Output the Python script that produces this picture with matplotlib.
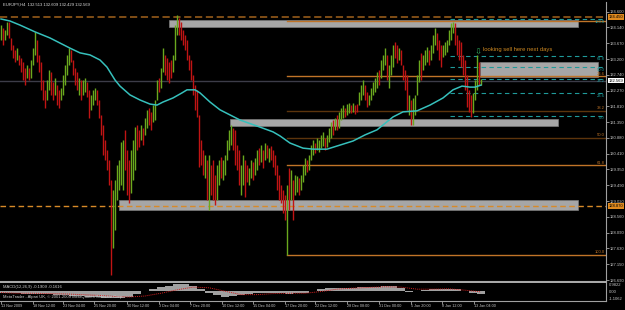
import matplotlib
matplotlib.use("Agg")
import matplotlib.pyplot as plt
from matplotlib.patches import Rectangle
import matplotlib.transforms as mtransforms

# ---------------- data ----------------
title_text = "EURJPY,H4  132.513 132.609 132.429 132.569"

highs = [
    134.21, 134.12, 134.07, 134.30, 134.30, 133.83, 133.62, 133.48, 133.53, 133.33,
    133.24, 133.12, 132.94, 133.03, 132.94, 133.18, 133.53, 134.01, 133.77, 133.33,
    133.12, 132.59, 132.30, 132.59, 132.89, 132.83, 132.53, 132.65, 132.44, 132.30,
    132.35, 132.74, 133.03, 133.33, 133.53, 133.48, 133.18, 132.94, 132.83, 132.65,
    132.59, 132.59, 132.65, 132.53, 132.30, 132.15, 132.30, 132.35, 132.30, 132.00,
    131.56, 131.26, 130.82, 130.53, 130.23, 129.64, 129.35, 129.64, 130.08, 130.23,
    130.76, 130.82, 131.12, 130.53, 130.23, 130.53, 130.82, 131.20, 131.26, 131.12,
    131.26, 131.17, 131.47, 131.71, 131.76, 131.65, 131.85, 132.00, 132.59, 132.65,
    132.94, 133.53, 133.33, 133.24, 133.12, 133.18, 133.33, 134.21, 134.51, 134.42,
    134.30, 134.07, 133.92, 133.77, 133.33, 133.18, 132.74, 132.44, 132.30, 131.56,
    130.82, 130.53, 130.38, 130.23, 130.38, 130.08, 130.23, 129.79, 130.08, 130.23,
    130.32, 130.23, 130.38, 130.82, 131.12, 131.26, 131.17, 131.12, 130.67, 130.53,
    130.08, 130.38, 130.23, 130.08, 129.99, 130.23, 130.17, 130.29, 130.53, 130.58,
    130.67, 130.53, 130.73, 130.67, 130.58, 130.64, 130.53, 130.38, 130.08, 129.79,
    129.49, 129.35, 129.20, 129.49, 129.99, 129.94, 129.64, 129.79, 129.76, 129.70,
    129.79, 130.08, 130.29, 130.23, 130.38, 130.67, 130.82, 130.73, 130.88, 130.82,
    130.97, 131.06, 130.88, 130.97, 131.17, 131.35, 131.41, 131.47, 131.56, 131.65,
    131.76, 131.85, 131.76, 131.88, 131.91, 131.85, 131.91, 131.85, 131.88, 132.24,
    132.44, 132.59, 132.44, 132.24, 132.15, 132.35, 132.53, 132.65, 132.83, 132.89,
    133.18, 133.33, 133.53, 133.33, 133.03, 133.33, 133.62, 133.71, 133.62, 133.53,
    133.48, 133.03, 132.89, 132.74, 132.15, 132.00, 132.06, 132.15, 132.74, 133.18,
    133.39, 133.33, 133.48, 133.56, 133.48, 133.62, 133.92, 134.12, 133.98, 133.77,
    133.62, 133.62, 133.71, 133.77, 134.07, 134.27, 134.30, 134.27, 133.92, 133.77,
    133.71, 133.33, 133.18, 132.74, 132.30, 132.15, 132.21, 132.59, 133.33, 133.12,
    132.609]

lows = [
    133.77, 133.62, 133.77, 133.92, 133.83, 133.48, 133.24, 133.12, 133.18, 133.03,
    132.83, 132.59, 132.44, 132.65, 132.59, 132.65, 133.03, 133.33, 133.12, 132.83,
    132.30, 132.00, 131.76, 132.00, 132.30, 132.15, 132.00, 132.15, 131.85, 131.76,
    132.00, 132.15, 132.44, 132.74, 133.03, 133.12, 132.74, 132.44, 132.30, 132.15,
    132.00, 132.15, 132.24, 132.09, 131.47, 131.71, 131.85, 132.00, 131.85, 131.47,
    130.97, 130.38, 130.23, 129.94, 129.49, 126.84, 127.63, 128.17, 129.05, 129.35,
    129.49, 129.35, 129.94, 129.20, 128.96, 129.26, 129.64, 129.94, 130.53, 130.61,
    130.82, 130.67, 130.97, 131.17, 131.26, 131.12, 131.35, 131.41, 132.00, 132.24,
    132.35, 132.83, 132.74, 132.59, 132.50, 132.65, 132.83, 133.18, 133.92, 133.92,
    133.77, 133.62, 133.48, 133.18, 132.89, 132.59, 132.15, 131.71, 131.50, 130.02,
    130.08, 129.79, 129.70, 129.05, 128.76, 129.20, 129.05, 128.90, 129.05, 129.49,
    129.70, 129.64, 129.79, 130.23, 130.53, 130.67, 130.53, 130.08, 129.94, 129.49,
    129.20, 129.49, 129.14, 129.58, 129.49, 129.70, 129.64, 129.79, 129.94, 130.08,
    130.17, 129.99, 130.23, 130.29, 130.17, 130.23, 130.02, 129.79, 129.35, 129.05,
    128.96, 128.67, 128.46, 127.43, 128.76, 129.05, 128.46, 129.20, 129.29, 129.20,
    129.35, 129.58, 129.79, 129.88, 129.94, 130.23, 130.38, 130.44, 130.53, 130.47,
    130.58, 130.64, 130.53, 130.61, 130.76, 130.88, 130.97, 131.12, 131.12, 131.17,
    131.41, 131.47, 131.50, 131.56, 131.62, 131.62, 131.65, 131.59, 131.65, 131.85,
    132.00, 132.15, 132.00, 131.79, 131.85, 132.00, 132.15, 132.24, 132.35, 132.44,
    132.65, 132.89, 133.03, 132.59, 132.35, 132.74, 132.97, 133.24, 133.09, 133.18,
    133.03, 132.59, 132.30, 131.71, 131.56, 131.26, 131.26, 131.56, 132.15, 132.53,
    132.59, 132.89, 133.03, 133.12, 133.03, 133.18, 133.39, 133.62, 133.48, 133.18,
    132.97, 133.27, 133.33, 133.42, 133.62, 133.77, 133.98, 133.62, 133.33, 133.18,
    132.97, 132.74, 132.30, 131.79, 131.65, 131.50, 131.62, 132.00, 132.30, 132.44,
    132.429]

# U = bullish bar, D = bearish bar
direction = ("UDUUDDDDUD" "DDDUDUUUDD" "DDDUUDDUDD" "UUUUUDDDDU" "DUUDDUUUDD"
             "DDDDDDUUUU" "UUDDDUUUDD" "UDUUDDUUUD" "UUDDDDUUUD" "DDDDDDDDDD"
             "DDUDUDDDUU" "DUUUUUDDDD" "UUDDUUDUUD" "UDUDUDDDDD" "DDDUDUDUUD"
             "UUUDUUUDUU" "UUDUUUDUDU" "UUDUUDUDDU" "UUDDUUUUUD" "UUUDUUUDDU"
             "DDDDUDUUUU" "DUUUDUUUDD" "DUUUUUUDDD" "DDDDDDUUUD" "U")

ma_idx = [0, 4.5, 9.5, 17, 24.5, 29.5, 34.5, 39.5, 44.5, 49.5,
          53, 57, 59.5, 64.5, 69.5, 74.5, 78, 81, 86, 90.5,
          93, 97, 99.5, 104.5, 109.5, 114.5, 119.5, 129.5, 136, 139.5,
          144.5, 151, 156, 163, 169.5, 176, 182, 188, 196, 201,
          208, 214.5, 221, 226, 230.5, 234.5, 237, 240]
ma_val = [134.39, 134.33, 134.21, 134.01, 133.83, 133.68, 133.53, 133.39, 133.33, 133.18,
          132.97, 132.59, 132.41, 132.15, 132.00, 131.88, 131.85, 131.94, 132.06, 132.21,
          132.30, 132.30, 132.21, 131.94, 131.71, 131.56, 131.41, 131.20, 131.06, 130.94,
          130.73, 130.58, 130.55, 130.55, 130.67, 130.79, 130.97, 131.12, 131.50, 131.65,
          131.68, 131.85, 132.06, 132.30, 132.41, 132.38, 132.38, 132.44]

# supply / demand zones (bar index start, end, price low, price high)
zone_start = [84, 239.5, 114.5, 59]
zone_end = [288.5, 298.5, 278.5, 288.5]
zone_low = [134.15, 132.68, 131.23, 128.76]
zone_high = [134.36, 133.12, 131.44, 129.05]

resistance_level = 134.45
support_level = 128.87
last_price = 132.569

fib_orange_start = 143
fib_orange_levels = [134.33, 132.70, 131.69, 130.88, 130.07, 127.43]
fib_orange_names = ["", "23.6", "38.2", "50.0", "61.8", "100.0"]
fib_teal_start = 224.5
fib_teal_levels = [134.39, 133.30, 132.97, 132.63, 132.21, 131.54]
fib_teal_names = ["100.0", "61.8", "50.0", "38.2", "23.6", "0.0"]

note_text = "looking sell here next days"
note_idx, note_price = 241, 133.50
arrow_idx, arrow_price = 238.5, 133.40

price_ticks = [134.600, 134.140, 133.670, 133.200, 132.740, 132.270, 131.810,
               131.350, 130.880, 130.410, 129.950, 129.490, 129.020, 128.560,
               128.090, 127.630, 127.150, 126.690]

time_tick_pos = [0, 16, 31, 46.5, 63, 79, 94.5, 110.5, 126, 142, 157, 173,
                 189, 205, 220.5, 236.5]
time_tick_labels = ["13 Nov 2009", "18 Nov 12:00", "23 Nov 04:00", "25 Nov 20:00",
                    "30 Nov 12:00", "3 Dec 04:00", "7 Dec 20:00", "10 Dec 12:00",
                    "15 Dec 04:00", "17 Dec 20:00", "22 Dec 12:00", "28 Dec 08:00",
                    "31 Dec 00:00", "5 Jan 20:00", "8 Jan 12:00", "13 Jan 04:00"]

macd_hist = [-0.3, -0.3, -0.3, -0.35, -0.35, -0.4, -0.45, -0.5, -0.6, -0.7,
             -0.7, -0.8, -0.9, -1.0, -1.0, -1.0, -0.8, -0.4, 0.0, 0.3,
             0.6, 0.8, 1.0, 1.0, 0.7, 0.3, -0.2, -0.6, -0.8, -0.7,
             -0.5, -0.35, -0.3, -0.25, -0.3, -0.3, -0.35, -0.3, -0.2, 0.1,
             0.3, 0.45, 0.5, 0.5, 0.5, 0.55, 0.6, 0.65, 0.75, 0.75,
             0.5, -0.1, 0.1, 0.2, 0.3, 0.35, 0.35, 0.3, 0.0, -0.3, -0.35]
macd_signal = [-0.2, -0.3, -0.3, -0.35, -0.4, -0.5, -0.6, -0.75, -0.85, -0.7,
               -0.3, 0.2, 0.6, 0.5, 0.0, -0.5, -0.5, -0.35, -0.3, -0.3,
               -0.05, 0.3, 0.45, 0.55, 0.65, 0.6, 0.3, 0.3, 0.35, 0.15, -0.1]
macd_ticks = [0.9822, 0.0, -1.1062]
macd_tick_labels = ["0.9822", "0.00", "-1.1062"]
macd_text = "MACD(12,26,9) -0.1909 -0.1616"
copyright_text = "MetaTrader - Alpari UK, \u00a9 2001-2009 MetaQuotes Software Corp."

# ---------------- drawing ----------------
W, H = 625, 310
FONT = "Liberation Sans"
plt.rcParams["font.family"] = [FONT, "DejaVu Sans"]

fig = plt.figure(figsize=(W / 100, H / 100), dpi=100, facecolor="black")


def fr(x0, y0, x1, y1):
    return [x0 / W, 1 - y1 / H, (x1 - x0) / W, (y1 - y0) / H]


ax = fig.add_axes(fr(0, 2, 606, 282))
ax.set_facecolor("black")
ax.set_xlim(-0.5, 302.5)
ax.set_ylim(126.631, 134.891)

GREEN = "#6aa81e"
RED = "#c01414"

# zones
for x0, x1, lo, hi in zip(zone_start, zone_end, zone_low, zone_high):
    ax.add_patch(Rectangle((x0, lo), x1 - x0, hi - lo, facecolor="#a6a6a6",
                           edgecolor="#7a7a7a", lw=0.5, zorder=1))

# horizontal levels
ax.axhline(resistance_level, color="#8a5418", lw=1.3, dashes=(4, 2), zorder=2)
ax.axhline(support_level, color="#d88a28", lw=1.0, dashes=(4, 2.5), zorder=3)
ax.axhline(last_price, color="#3c3c48", lw=1.0, zorder=1.5)

# fibonacci (orange)
for lvl, name in zip(fib_orange_levels, fib_orange_names):
    col = "#5c340c" if name in ("38.2", "50.0") else "#c07428"
    ax.plot([fib_orange_start, 302.5], [lvl, lvl], color=col, lw=1.0, zorder=2)
    if name:
        ax.text(301.8, lvl + 0.02, name, color="#c07428", fontsize=3,
                ha="right", va="bottom", zorder=6)

# fibonacci (teal dashed) - labels below their lines
for lvl, name in zip(fib_teal_levels, fib_teal_names):
    ax.plot([fib_teal_start, 302.5], [lvl, lvl], color="#1f9a9a", lw=0.8,
            dashes=(4, 3), zorder=4)
    ax.text(301.8, lvl - 0.02, name, color="#1fa0a0", fontsize=3,
            ha="right", va="top", zorder=6)

# bars
idx = list(range(len(highs)))
cols = [GREEN if d == "U" else RED for d in direction]
ax.vlines(idx, lows, highs, colors=cols, lw=1.0, zorder=5)

# moving average
ax.plot(ma_idx, ma_val, color="#36c0bc", lw=1.1, zorder=6)

# annotation
ax.text(note_idx, note_price, note_text, color="#d08a22", fontsize=4.2,
        ha="left", va="center", zorder=7)
ax.text(arrow_idx, arrow_price, "\u21e9", color="#2fb060", fontsize=6,
        ha="center", va="center", family="DejaVu Sans", zorder=7)

# right price scale
ax.yaxis.tick_right()
ax.set_yticks(price_ticks)
ax.set_yticklabels([f"{p:.3f}" for p in price_ticks])
ax.tick_params(axis="y", colors="#c8c8c8", labelsize=3, length=2, width=0.5,
               pad=1)
ax.set_xticks([])
for s in ("left", "top"):
    ax.spines[s].set_visible(False)
ax.spines["right"].set_color("#a0a0a0")
ax.spines["right"].set_linewidth(0.8)
ax.spines["bottom"].set_color("#a8a8a8")
ax.spines["bottom"].set_linewidth(1.5)

trans = mtransforms.blended_transform_factory(ax.transAxes, ax.transData)
ax.text(1.004, last_price, f"{last_price:.3f}", transform=trans, fontsize=3,
        color="black", va="center", ha="left",
        bbox=dict(boxstyle="square,pad=0.15", fc="white", ec="none"), zorder=8)
ax.text(1.004, resistance_level, f"{resistance_level:.3f}", transform=trans,
        fontsize=3, color="black", va="center", ha="left",
        bbox=dict(boxstyle="square,pad=0.15", fc="#e08a1e", ec="none"), zorder=8)
ax.text(1.004, support_level, f"{support_level:.3f}", transform=trans,
        fontsize=3, color="black", va="center", ha="left",
        bbox=dict(boxstyle="square,pad=0.15", fc="#e08a1e", ec="none"), zorder=8)

fig.text(3 / W, 1 - 5 / H, title_text, color="#e0e0e0", fontsize=3,
         ha="left", va="center")

# MACD pane
mx = fig.add_axes(fr(0, 283, 606, 300.5))
mx.set_facecolor("black")
mx.set_xlim(-0.5, 302.5)
mx.set_ylim(-1.36, 1.2)
hist_idx = list(range(0, 4 * len(macd_hist), 4))
mx.bar(hist_idx, macd_hist, width=3.6, color="#a0a0a0", edgecolor="none",
       zorder=2)
sig_idx = list(range(0, 8 * len(macd_signal), 8))
mx.plot(sig_idx, macd_signal, color="#d02020", lw=0.7, ls=(0, (1, 1)), zorder=3)
mx.yaxis.tick_right()
mx.set_yticks(macd_ticks)
mx.set_yticklabels(macd_tick_labels)
mx.tick_params(axis="y", colors="#c8c8c8", labelsize=3, length=0, pad=2)
mx.set_xticks(time_tick_pos)
mx.set_xticklabels(time_tick_labels)
mx.tick_params(axis="x", colors="#c8c8c8", labelsize=2.7, length=2, width=0.5,
               pad=0.8)
for lab in mx.get_xticklabels():
    lab.set_horizontalalignment("left")
for s in ("left", "top"):
    mx.spines[s].set_visible(False)
mx.spines["right"].set_color("#a0a0a0")
mx.spines["right"].set_linewidth(0.8)
mx.spines["bottom"].set_color("#a0a0a0")
mx.spines["bottom"].set_linewidth(0.8)
mx.text(0.005, 0.78, macd_text, transform=mx.transAxes, color="#d0d0d0",
        fontsize=3, ha="left", va="center", zorder=5)
mx.text(0.005, 0.2, copyright_text, transform=mx.transAxes, color="#d0d0d0",
        fontsize=3, ha="left", va="center", zorder=5)

fig.savefig("out.png", dpi=100, facecolor="black")
